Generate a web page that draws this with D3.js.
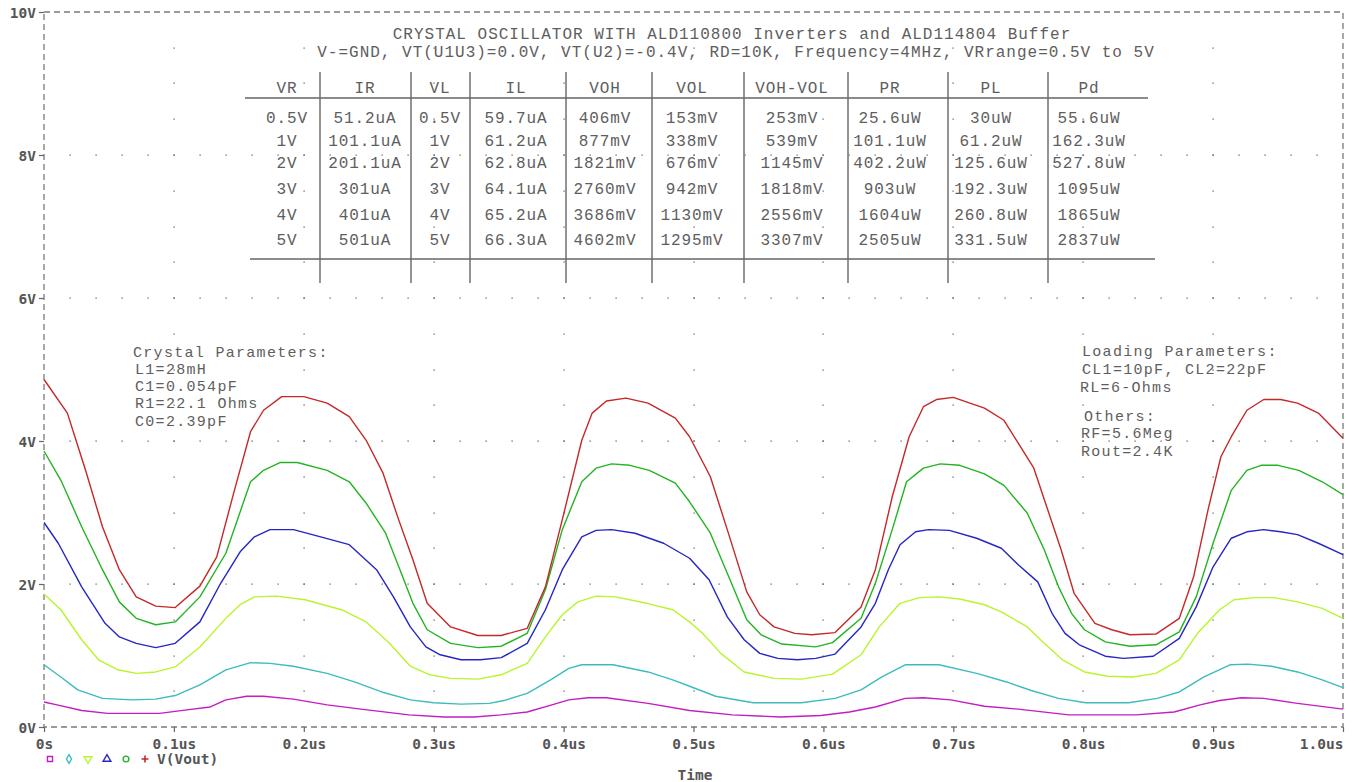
<!DOCTYPE html>
<html>
<head>
<meta charset="utf-8">
<script src="https://cdn.jsdelivr.net/npm/d3@7"></script>
<style>
  html, body { margin: 0; padding: 0; background: #fff; }
  svg { display: block; }
  .mono { font-family: "Liberation Mono", "DejaVu Sans Mono", monospace; fill: #5e5e5e; }
  .axis text { font-family: "DejaVu Sans Mono", monospace; font-weight: bold; font-size: 14.5px; fill: #555; }
  .axis line { stroke: #666; stroke-width: 1.2; }
</style>
</head>
<body>
<svg id="chart" width="1361" height="782"></svg>
<script>
// ---- Transient V(Vout) for each VR supply, [time in us, volts] ----
const vout05 = [[0,0.35],[0.010,0.31],[0.029,0.23],[0.049,0.19],[0.089,0.19],[0.110,0.24],[0.128,0.28],[0.140,0.38],[0.156,0.43],[0.169,0.43],[0.192,0.39],[0.218,0.31],[0.244,0.25],[0.281,0.17],[0.308,0.14],[0.331,0.14],[0.352,0.17],[0.372,0.21],[0.391,0.31],[0.404,0.38],[0.419,0.41],[0.433,0.41],[0.465,0.33],[0.497,0.23],[0.530,0.17],[0.567,0.14],[0.598,0.16],[0.620,0.21],[0.640,0.28],[0.663,0.40],[0.677,0.41],[0.698,0.38],[0.724,0.29],[0.750,0.25],[0.789,0.17],[0.841,0.17],[0.870,0.21],[0.890,0.31],[0.905,0.37],[0.922,0.41],[0.939,0.40],[0.965,0.33],[1.000,0.25]];
const vout1 = [[0,0.87],[0.013,0.70],[0.026,0.52],[0.045,0.40],[0.068,0.38],[0.086,0.39],[0.101,0.44],[0.120,0.59],[0.140,0.80],[0.159,0.90],[0.174,0.89],[0.192,0.85],[0.218,0.75],[0.239,0.63],[0.260,0.49],[0.282,0.38],[0.300,0.34],[0.321,0.32],[0.343,0.33],[0.354,0.37],[0.372,0.47],[0.390,0.66],[0.404,0.82],[0.414,0.87],[0.438,0.87],[0.465,0.77],[0.484,0.66],[0.497,0.57],[0.517,0.43],[0.546,0.34],[0.583,0.34],[0.609,0.40],[0.629,0.52],[0.645,0.70],[0.663,0.87],[0.689,0.87],[0.718,0.75],[0.741,0.63],[0.760,0.51],[0.781,0.40],[0.802,0.34],[0.835,0.34],[0.857,0.40],[0.874,0.49],[0.893,0.70],[0.913,0.87],[0.927,0.88],[0.945,0.85],[0.965,0.77],[0.984,0.66],[1.000,0.55]];
const vout2 = [[0,1.86],[0.013,1.64],[0.029,1.22],[0.042,0.94],[0.057,0.80],[0.071,0.75],[0.086,0.77],[0.101,0.84],[0.120,1.12],[0.141,1.54],[0.151,1.71],[0.162,1.82],[0.179,1.83],[0.201,1.78],[0.229,1.64],[0.248,1.47],[0.266,1.17],[0.282,0.85],[0.297,0.73],[0.313,0.68],[0.334,0.67],[0.352,0.73],[0.372,0.89],[0.386,1.26],[0.399,1.57],[0.411,1.75],[0.425,1.83],[0.440,1.82],[0.464,1.73],[0.484,1.64],[0.497,1.47],[0.507,1.31],[0.521,1.03],[0.539,0.77],[0.562,0.68],[0.583,0.67],[0.607,0.74],[0.629,1.01],[0.643,1.40],[0.659,1.73],[0.674,1.81],[0.689,1.82],[0.705,1.79],[0.724,1.71],[0.737,1.61],[0.757,1.40],[0.770,1.17],[0.784,0.94],[0.801,0.77],[0.819,0.71],[0.838,0.70],[0.856,0.75],[0.874,0.94],[0.888,1.31],[0.905,1.64],[0.916,1.78],[0.932,1.81],[0.947,1.81],[0.965,1.75],[0.984,1.66],[1.000,1.52]];
const vout3 = [[0,2.86],[0.011,2.57],[0.029,1.96],[0.047,1.45],[0.058,1.26],[0.071,1.17],[0.086,1.11],[0.101,1.17],[0.120,1.47],[0.136,2.01],[0.151,2.45],[0.162,2.66],[0.174,2.76],[0.192,2.76],[0.213,2.66],[0.235,2.55],[0.256,2.20],[0.269,1.82],[0.282,1.40],[0.294,1.12],[0.305,1.01],[0.321,0.94],[0.336,0.94],[0.352,0.97],[0.372,1.17],[0.386,1.64],[0.399,2.20],[0.414,2.66],[0.425,2.75],[0.437,2.76],[0.455,2.71],[0.477,2.57],[0.497,2.36],[0.512,2.06],[0.526,1.54],[0.539,1.22],[0.551,1.03],[0.565,0.96],[0.580,0.94],[0.594,0.96],[0.609,1.02],[0.629,1.40],[0.640,1.73],[0.650,2.20],[0.659,2.55],[0.671,2.73],[0.681,2.76],[0.697,2.75],[0.718,2.64],[0.737,2.50],[0.750,2.27],[0.765,2.03],[0.776,1.59],[0.786,1.31],[0.797,1.15],[0.817,0.99],[0.831,0.96],[0.854,0.99],[0.874,1.24],[0.887,1.68],[0.900,2.24],[0.914,2.64],[0.926,2.73],[0.939,2.76],[0.952,2.73],[0.965,2.69],[0.981,2.57],[1.000,2.41]];
const vout4 = [[0,3.86],[0.013,3.45],[0.029,2.80],[0.045,2.20],[0.058,1.75],[0.071,1.52],[0.086,1.43],[0.101,1.47],[0.120,1.82],[0.140,2.43],[0.159,3.43],[0.169,3.59],[0.182,3.70],[0.195,3.70],[0.218,3.59],[0.235,3.43],[0.248,3.13],[0.263,2.71],[0.274,2.20],[0.284,1.73],[0.295,1.36],[0.313,1.17],[0.334,1.11],[0.352,1.13],[0.372,1.31],[0.386,1.92],[0.399,2.76],[0.414,3.43],[0.425,3.62],[0.437,3.68],[0.451,3.66],[0.466,3.59],[0.486,3.41],[0.497,3.15],[0.513,2.71],[0.526,2.15],[0.541,1.50],[0.552,1.29],[0.568,1.16],[0.594,1.12],[0.607,1.18],[0.629,1.52],[0.640,2.01],[0.653,2.76],[0.664,3.43],[0.677,3.62],[0.690,3.68],[0.705,3.66],[0.724,3.54],[0.739,3.38],[0.757,2.99],[0.770,2.48],[0.781,1.96],[0.791,1.59],[0.801,1.36],[0.817,1.19],[0.836,1.13],[0.856,1.15],[0.874,1.33],[0.887,1.82],[0.900,2.57],[0.914,3.31],[0.926,3.59],[0.937,3.66],[0.950,3.66],[0.966,3.59],[0.984,3.43],[1.000,3.25]];
const vout5 = [[0,4.86],[0.018,4.39],[0.032,3.59],[0.045,2.80],[0.058,2.20],[0.071,1.82],[0.086,1.69],[0.101,1.67],[0.120,1.97],[0.133,2.38],[0.146,3.27],[0.159,4.13],[0.169,4.43],[0.183,4.62],[0.200,4.62],[0.218,4.53],[0.235,4.34],[0.248,4.01],[0.261,3.55],[0.273,2.90],[0.284,2.34],[0.295,1.73],[0.313,1.40],[0.334,1.28],[0.352,1.28],[0.372,1.38],[0.386,1.96],[0.399,2.90],[0.414,4.01],[0.422,4.39],[0.433,4.56],[0.448,4.60],[0.465,4.53],[0.486,4.32],[0.497,4.06],[0.513,3.50],[0.526,2.76],[0.541,1.89],[0.551,1.57],[0.562,1.40],[0.578,1.31],[0.591,1.29],[0.609,1.32],[0.619,1.50],[0.629,1.68],[0.640,2.20],[0.653,3.22],[0.666,4.06],[0.677,4.48],[0.687,4.58],[0.700,4.61],[0.724,4.46],[0.739,4.29],[0.750,3.97],[0.762,3.62],[0.771,3.13],[0.783,2.48],[0.793,1.87],[0.809,1.45],[0.822,1.36],[0.836,1.29],[0.856,1.30],[0.874,1.52],[0.885,2.10],[0.896,3.03],[0.906,3.78],[0.914,4.06],[0.926,4.43],[0.939,4.58],[0.952,4.58],[0.965,4.53],[0.981,4.39],[1.000,4.04]];

const seriesData = [vout05, vout1, vout2, vout3, vout4, vout5];
const seriesColors = ["#c21ec2", "#3cbcbc", "#b8f52a", "#2626c4", "#22b422", "#c42828"];
const seriesSymbols = ["square", "diamond", "triangleDown", "triangleUp", "circle", "plus"];

// ---- Axis ticks ----
const yTicks = [0, 2, 4, 6, 8, 10];
const yTickLabels = ["0V", "2V", "4V", "6V", "8V", "10V"];
const xTicks = [0, 0.1, 0.2, 0.3, 0.4, 0.5, 0.6, 0.7, 0.8, 0.9, 1.0];
const xTickLabels = ["0s", "0.1us", "0.2us", "0.3us", "0.4us", "0.5us", "0.6us", "0.7us", "0.8us", "0.9us", "1.0us"];

// ---- Annotation text ----
const titleLines = [
  "CRYSTAL OSCILLATOR WITH ALD110800 Inverters and ALD114804 Buffer",
  "V-=GND, VT(U1U3)=0.0V, VT(U2)=-0.4V, RD=10K, Frequency=4MHz, VRrange=0.5V to 5V"
];
const crystalLines = ["Crystal Parameters:", "L1=28mH", "C1=0.054pF", "R1=22.1 Ohms", "C0=2.39pF"];
const loadingLines = ["Loading Parameters:", "CL1=10pF, CL2=22pF", "RL=6-Ohms"];
const otherLines = ["Others:", "RF=5.6Meg", "Rout=2.4K"];

// ---- Results table ----
const tableHeaders = ["VR", "IR", "VL", "IL", "VOH", "VOL", "VOH-VOL", "PR", "PL", "Pd"];
const tableRows = [
  ["0.5V", "51.2uA", "0.5V", "59.7uA", "406mV", "153mV", "253mV", "25.6uW", "30uW", "55.6uW"],
  ["1V", "101.1uA", "1V", "61.2uA", "877mV", "338mV", "539mV", "101.1uW", "61.2uW", "162.3uW"],
  ["2V", "201.1uA", "2V", "62.8uA", "1821mV", "676mV", "1145mV", "402.2uW", "125.6uW", "527.8uW"],
  ["3V", "301uA", "3V", "64.1uA", "2760mV", "942mV", "1818mV", "903uW", "192.3uW", "1095uW"],
  ["4V", "401uA", "4V", "65.2uA", "3686mV", "1130mV", "2556mV", "1604uW", "260.8uW", "1865uW"],
  ["5V", "501uA", "5V", "66.3uA", "4602mV", "1295mV", "3307mV", "2505uW", "331.5uW", "2837uW"]
];

// ---- Layout ----
const svg = d3.select("#chart");
const plot = { left: 44, right: 1343, top: 12, bottom: 727 };
const x = d3.scaleLinear().domain([0, 1]).range([plot.left, plot.right]);
const y = d3.scaleLinear().domain([0, 10]).range([plot.bottom, plot.top]);

// Dotted grid: rows of dots along each major voltage, columns along each major time
const grid = svg.append("g").attr("fill", "#555");
const rowV = [2, 4, 6, 8];
const colT = [0.1, 0.2, 0.3, 0.4, 0.5, 0.6, 0.7, 0.8, 0.9];
rowV.forEach(v => {
  d3.range(1, 50).forEach(i => {
    grid.append("rect").attr("x", Math.round(x(i * 0.02)) - 0.5).attr("y", Math.round(y(v)) - 0.5)
      .attr("width", 1.2).attr("height", 1.2);
  });
});
colT.forEach(t => {
  d3.range(1, 20).forEach(i => {
    grid.append("rect").attr("x", Math.round(x(t)) - 0.5).attr("y", Math.round(y(i * 0.5)) - 0.5)
      .attr("width", 1.2).attr("height", 1.2);
  });
});

// Plot frame (dashed)
svg.append("rect")
  .attr("x", plot.left).attr("y", plot.top)
  .attr("width", plot.right - plot.left).attr("height", plot.bottom - plot.top)
  .attr("fill", "none").attr("stroke", "#7a7a7a").attr("stroke-width", 1.3)
  .attr("stroke-dasharray", "6,4");

// Axes
const yAxis = d3.axisLeft(y).tickValues(yTicks)
  .tickFormat((d, i) => yTickLabels[i]).tickSize(5).tickPadding(3);
svg.append("g").attr("class", "axis").attr("transform", `translate(${plot.left},0)`)
  .call(yAxis).call(g => g.select(".domain").remove())
  .call(g => g.selectAll("text").attr("dy", "0.36em"));

const xAxis = d3.axisBottom(x).tickValues(xTicks)
  .tickFormat((d, i) => xTickLabels[i]).tickSize(5).tickPadding(7);
svg.append("g").attr("class", "axis").attr("transform", `translate(0,${plot.bottom})`)
  .call(xAxis).call(g => g.select(".domain").remove())
  .call(g => g.selectAll(".tick").filter(d => d === 1.0).select("text").attr("text-anchor", "end"));

// Waveforms
const line = d3.line().x(d => x(d[0])).y(d => y(d[1]));
seriesData.forEach((s, i) => {
  svg.append("path").datum(s)
    .attr("fill", "none").attr("stroke", seriesColors[i]).attr("stroke-width", 1.4)
    .attr("stroke-linejoin", "round").attr("d", line);
});

// Title lines
const tg = svg.append("g").attr("class", "mono").attr("font-size", 16).attr("text-anchor", "middle");
tg.append("text").attr("x", 732).attr("y", 39).attr("letter-spacing", 1.0).text(titleLines[0]);
tg.append("text").attr("x", 736).attr("y", 57).attr("letter-spacing", 1.0).text(titleLines[1]);

// Table
const colX = [287, 365, 440, 516, 605, 692, 792, 890, 991, 1089];
const colEdges = [320, 411, 470, 566, 652, 744, 848, 948, 1048];
const rowY = [117, 140, 162, 188, 214, 239];
const table = svg.append("g");
table.append("line").attr("x1", 245).attr("x2", 1148).attr("y1", 98).attr("y2", 98)
  .attr("stroke", "#666").attr("stroke-width", 1.4);
table.append("line").attr("x1", 250).attr("x2", 1155).attr("y1", 259).attr("y2", 259)
  .attr("stroke", "#666").attr("stroke-width", 1.4);
colEdges.forEach(cx => {
  table.append("line").attr("x1", cx).attr("x2", cx).attr("y1", 72).attr("y2", 283)
    .attr("stroke", "#666").attr("stroke-width", 1.4);
});
const tt = table.append("g").attr("class", "mono").attr("font-size", 16)
  .attr("text-anchor", "middle").attr("letter-spacing", 0.9);
tableHeaders.forEach((h, j) => {
  tt.append("text").attr("x", colX[j]).attr("y", 87).attr("dy", "0.36em").text(h);
});
tableRows.forEach((r, i) => {
  r.forEach((c, j) => {
    tt.append("text").attr("x", colX[j]).attr("y", rowY[i]).attr("dy", "0.36em").text(c);
  });
});

// Parameter notes
const notes = svg.append("g").attr("class", "mono").attr("font-size", 15).attr("letter-spacing", 1.3);
const crystalY = [352, 369, 386, 403, 421];
crystalLines.forEach((t, i) => {
  notes.append("text").attr("x", i === 0 ? 133 : 135).attr("y", crystalY[i]).attr("dy", "0.36em").text(t);
});
const loadY = [351, 369, 387];
loadingLines.forEach((t, i) => {
  notes.append("text").attr("x", i === 2 ? 1080 : 1082).attr("y", loadY[i]).attr("dy", "0.36em").text(t);
});
const otherY = [416, 433, 451];
otherLines.forEach((t, i) => {
  notes.append("text").attr("x", i === 0 ? 1084 : 1081).attr("y", otherY[i]).attr("dy", "0.36em").text(t);
});

// Legend
const legendX = [50, 69, 88, 107, 126, 145];
const symbolTypes = {
  square: d3.symbolSquare, diamond: d3.symbolDiamond, triangleUp: d3.symbolTriangle,
  triangleDown: d3.symbolTriangle, circle: d3.symbolCircle, plus: d3.symbolCross
};
seriesSymbols.forEach((s, i) => {
  const isPlus = s === "plus";
  const g = svg.append("g").attr("transform",
    `translate(${legendX[i]},759)` + (s === "triangleDown" ? " rotate(180)" : ""));
  if (isPlus) {
    g.append("path").attr("d", "M-3.5,0H3.5M0,-3.5V3.5").attr("stroke", seriesColors[i]).attr("stroke-width", 1.6);
  } else {
    g.append("path").attr("d", d3.symbol().type(symbolTypes[s]).size(s === "diamond" ? 22 : 26)())
      .attr("fill", "none").attr("stroke", seriesColors[i]).attr("stroke-width", 1.4);
  }
});
svg.append("text").attr("x", 157).attr("y", 759).attr("dy", "0.36em")
  .attr("font-family", "DejaVu Sans Mono, monospace").attr("font-weight", "bold")
  .attr("font-size", 14.5).attr("fill", "#555").text("V(Vout)");
svg.append("text").attr("x", 695).attr("y", 775).attr("dy", "0.36em").attr("text-anchor", "middle")
  .attr("font-family", "DejaVu Sans Mono, monospace").attr("font-weight", "bold")
  .attr("font-size", 14.5).attr("fill", "#555").text("Time");
</script>
</body>
</html>
